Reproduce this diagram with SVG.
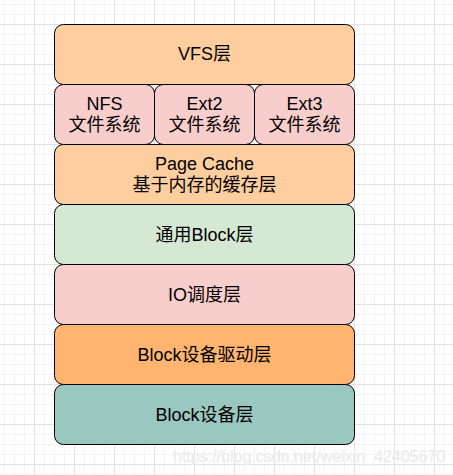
<svg xmlns="http://www.w3.org/2000/svg" width="453" height="475" viewBox="0 0 453 475">
<defs>
<pattern id="minor" x="4" y="4" width="10" height="10" patternUnits="userSpaceOnUse">
<path d="M0 0.5H10M0.5 0V10" fill="none" stroke="#f3f3f3" stroke-width="1"/>
</pattern>
<pattern id="major" x="34" y="24" width="40" height="40" patternUnits="userSpaceOnUse">
<path d="M0 0.5H40M0.5 0V40" fill="none" stroke="#e2e2e2" stroke-width="1"/>
</pattern>
<style>
.box{stroke:#000;stroke-width:1}
.t{font-family:"Liberation Sans","Noto Sans CJK SC",sans-serif;font-size:18px;fill:#000;text-anchor:middle}
.wm{font-family:"Liberation Sans",Arial,sans-serif;font-size:16px;fill:#e4e4e4;stroke:#f4f4f4;stroke-width:0.5}
</style>
</defs>
<rect width="453" height="475" fill="#fff"/>
<rect width="453" height="475" fill="url(#minor)"/>
<rect width="453" height="475" fill="url(#major)"/>
<g id="connectors"></g>
<g id="vfs"><rect class="box" x="54.5" y="24.5" width="300" height="60" rx="9" fill="#FFCE9F"/><text class="t" x="204.5" y="60">VFS层</text></g>
<g id="nfs"><rect class="box" x="54.5" y="84.5" width="100" height="60" rx="9" fill="#F8CECC"/><text class="t" x="104.5" y="109.5">NFS</text><text class="t" x="104.5" y="130.5">文件系统</text></g>
<g id="ext2"><rect class="box" x="154.5" y="84.5" width="100" height="60" rx="9" fill="#F8CECC"/><text class="t" x="204.5" y="109.5">Ext2</text><text class="t" x="204.5" y="130.5">文件系统</text></g>
<g id="ext3"><rect class="box" x="254.5" y="84.5" width="100" height="60" rx="9" fill="#F8CECC"/><text class="t" x="304.5" y="109.5">Ext3</text><text class="t" x="304.5" y="130.5">文件系统</text></g>
<g id="pagecache"><rect class="box" x="54.5" y="144.5" width="300" height="60" rx="9" fill="#FFCE9F"/><text class="t" x="204.5" y="170">Page Cache</text><text class="t" x="204.5" y="190.5">基于内存的缓存层</text></g>
<g id="block"><rect class="box" x="54.5" y="204.5" width="300" height="60" rx="9" fill="#D5E8D4"/><text class="t" x="204.5" y="240.5">通用Block层</text></g>
<g id="io"><rect class="box" x="54.5" y="264.5" width="300" height="60" rx="9" fill="#F8CECC"/><text class="t" x="204.5" y="300.5">IO调度层</text></g>
<g id="driver"><rect class="box" x="54.5" y="324.5" width="300" height="60" rx="9" fill="#FFB570"/><text class="t" x="204.5" y="360.5">Block设备驱动层</text></g>
<g id="device"><rect class="box" x="54.5" y="384.5" width="300" height="60" rx="9" fill="#9AC7BF"/><text class="t" x="204.5" y="420.5">Block设备层</text></g>
<text class="wm" x="173" y="462">https://blog.csdn.net/weixin_42405670</text>
</svg>
